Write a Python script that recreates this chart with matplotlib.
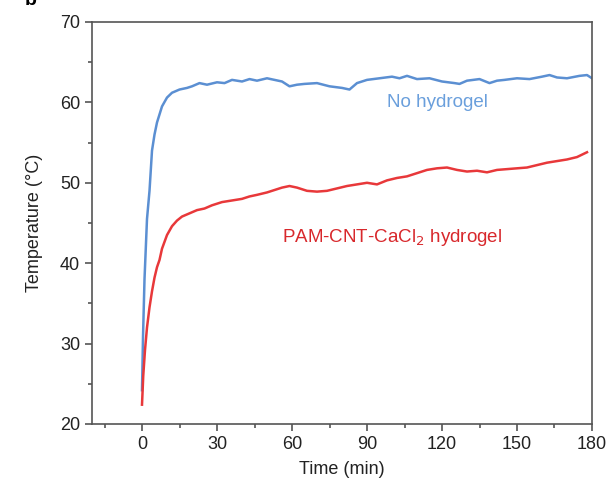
import matplotlib
matplotlib.use("Agg")
from matplotlib import pyplot as plt
from matplotlib.ticker import MultipleLocator

plt.rcParams["font.family"] = ["Liberation Sans", "DejaVu Sans"]

# values
t_blue = [0, 0.4, 1, 2, 3, 4, 5, 6, 8, 10, 12, 15, 18, 20, 23, 26, 30, 33, 36, 40, 43, 46, 50, 53,
          56, 59, 62, 65, 70, 75, 80, 83, 86, 90, 95, 100, 103, 106, 110, 115, 120, 125, 127, 130,
          135, 139, 142, 145, 150, 155, 160, 163, 166, 170, 175, 178, 180]
temp_blue = [24.2, 30.8, 38.0, 45.5, 49.0, 54.0, 56.0, 57.5, 59.5, 60.6, 61.2, 61.6, 61.8, 62.0,
             62.4, 62.2, 62.5, 62.4, 62.8, 62.6, 62.9, 62.7, 63.0, 62.8, 62.6, 62.0, 62.2, 62.3,
             62.4, 62.0, 61.8, 61.6, 62.4, 62.8, 63.0, 63.2, 63.0, 63.3, 62.9, 63.0, 62.6, 62.4,
             62.3, 62.7, 62.9, 62.4, 62.7, 62.8, 63.0, 62.9, 63.2, 63.4, 63.1, 63.0, 63.3, 63.4, 63.0]

t_red = [0, 0.5, 1.2, 2, 3, 4, 5, 6, 7, 8, 10, 12, 14, 16, 19, 22, 25, 28, 32, 36, 40, 43, 46, 50,
         53, 56, 59, 62, 66, 70, 74, 78, 82, 86, 90, 94, 98, 102, 106, 110, 114, 118, 122, 126, 130,
         134, 138, 142, 146, 150, 154, 158, 162, 166, 170, 174, 178]
temp_red = [22.4, 26.0, 29.2, 32.0, 34.5, 36.5, 38.2, 39.5, 40.4, 41.8, 43.5, 44.6, 45.3, 45.8,
            46.2, 46.6, 46.8, 47.2, 47.6, 47.8, 48.0, 48.3, 48.5, 48.8, 49.1, 49.4, 49.6, 49.4,
            49.0, 48.9, 49.0, 49.3, 49.6, 49.8, 50.0, 49.8, 50.3, 50.6, 50.8, 51.2, 51.6, 51.8,
            51.9, 51.6, 51.4, 51.5, 51.3, 51.6, 51.7, 51.8, 51.9, 52.2, 52.5, 52.7, 52.9, 53.2, 53.8]

label_blue = "No hydrogel"
label_red = "PAM-CNT-CaCl$_2$ hydrogel"

blue = "#5b8fd2"
red = "#e8383a"
frame = "#555555"

fig = plt.figure(figsize=(6.15, 4.91), dpi=100)
ax = fig.add_axes([0.1496, 0.1365, 0.813, 0.8187])

ax.plot(t_blue, temp_blue, color=blue, lw=1.8)
ax.plot(t_red, temp_red, color=red, lw=1.8)

ax.text(0.69, 0.80, label_blue, transform=ax.transAxes, color="#6a9fdc", fontsize=13.5, ha="center", va="center")
ax.text(0.60, 0.463, label_red, transform=ax.transAxes, color="#d8282c", fontsize=13.5, ha="center", va="center")

ax.set_xlim(-20, 180)
ax.set_ylim(20, 70)
ax.xaxis.set_major_locator(MultipleLocator(30))
ax.xaxis.set_minor_locator(MultipleLocator(15))
ax.yaxis.set_major_locator(MultipleLocator(10))
ax.yaxis.set_minor_locator(MultipleLocator(5))
ax.set_xticks(range(0, 181, 30))

for s in ax.spines.values():
    s.set_color(frame)
    s.set_linewidth(1.2)
ax.tick_params(which="both", direction="out", color=frame, width=1.2, labelsize=13, labelcolor="#222222")
ax.tick_params(which="major", length=5)
ax.tick_params(which="minor", length=3)

ax.set_xlabel("Time (min)", fontsize=13, color="#222222", labelpad=6)
ax.set_ylabel("Temperature (°C)", fontsize=13, color="#222222", labelpad=12)

# panel letter, partly cut off at the top edge like the reference
fig.text(0.04, 0.998, "b", fontsize=14, fontweight="bold", va="center")

fig.savefig("out.png", dpi=100)
